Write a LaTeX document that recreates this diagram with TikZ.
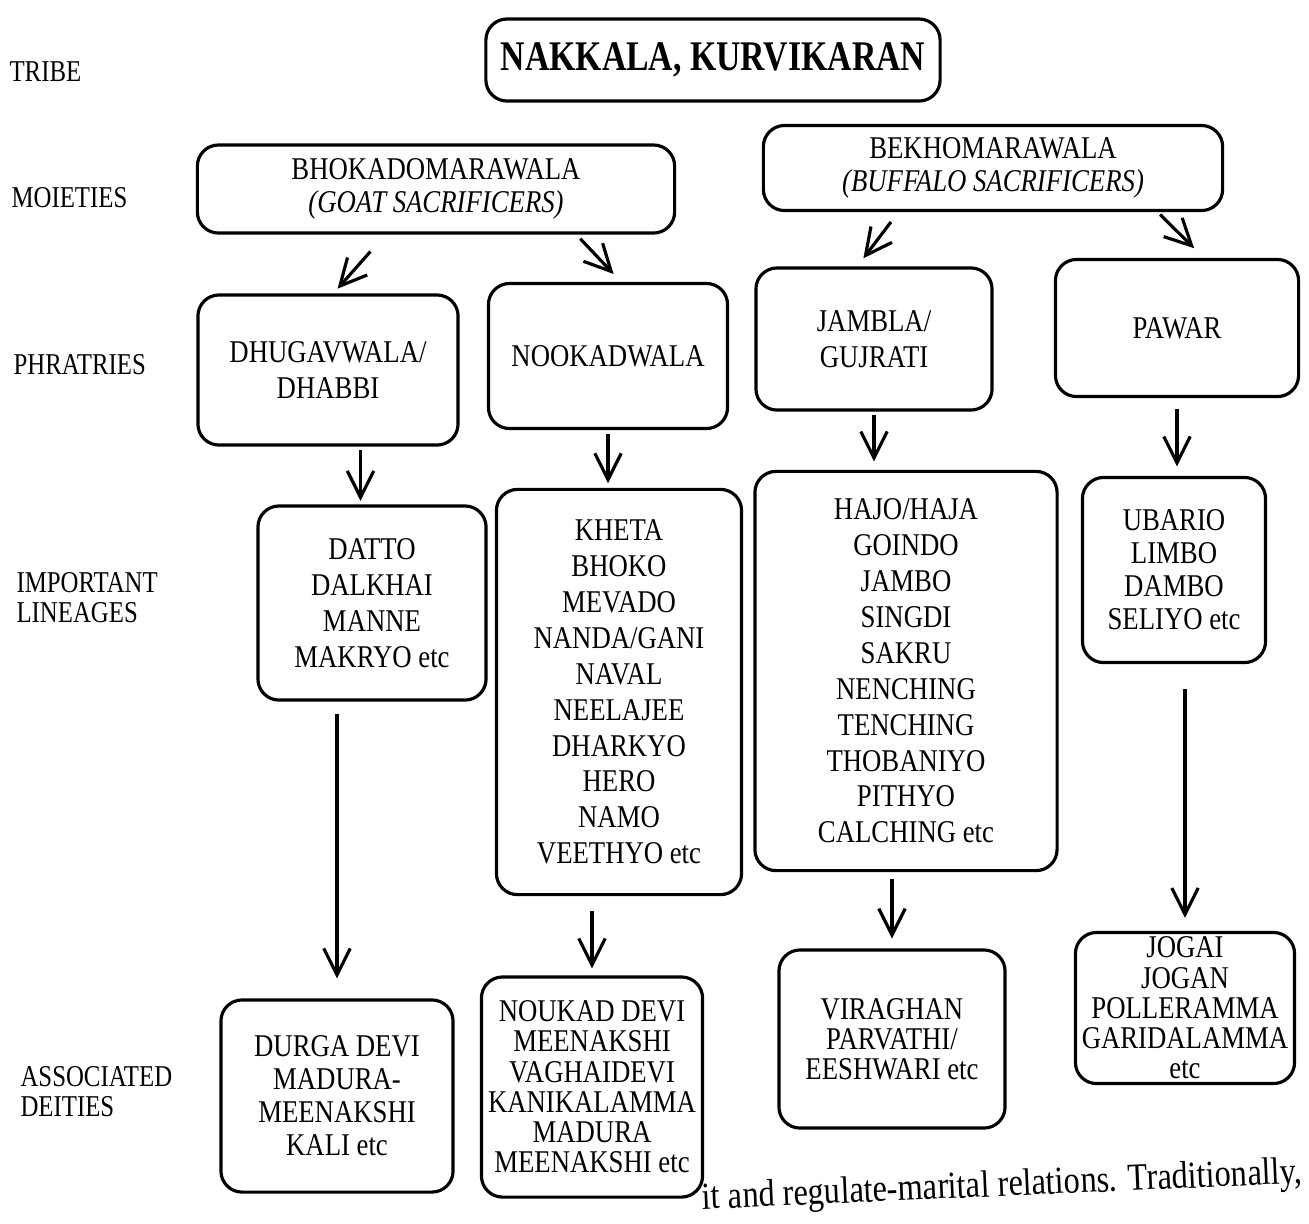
\documentclass[tikz,border=0pt]{standalone}
\usepackage{fontspec}
\setmainfont{Liberation Serif}[FakeStretch=0.845]
\newfontfamily\lblfont{Liberation Serif}[FakeStretch=0.82]
\newfontfamily\ttlfont{Liberation Serif}[FakeStretch=0.8]
\usetikzlibrary{arrows.meta}

\begin{document}
\begin{tikzpicture}[x=0.01cm, y=-0.01cm, line width=0.9pt,
	box/.style={draw, rounded corners=6pt, align=center, inner sep=0pt, font=\fontsize{9}{10.2}\selectfont},
	midsp/.style={font=\fontsize{9}{9.4}\selectfont},
	tightsp/.style={font=\fontsize{9}{8.6}\selectfont},
	lbl/.style={anchor=west, align=left, inner sep=0pt, font=\lblfont\fontsize{8.6}{8.5}\selectfont},
	arr/.style={-{Straight Barb[length=7.5pt,width=7.5pt]}, shorten >=1pt, shorten <=1pt}]
\useasboundingbox (0,0) rectangle (1309,1223);
% levels
\node [lbl] (tl) at (8,72) {TRIBE};
\node [lbl] (ml) at (10,198) {MOIETIES};
\node [lbl] (pl) at (12,365) {PHRATRIES};
\node [lbl] (ll) at (15,598) {IMPORTANT\\LINEAGES};
\node [lbl] (dl) at (19,1092) {ASSOCIATED\\DEITIES};
% nodes
\node [box, minimum width=4.54cm, minimum height=0.82cm, font=\ttlfont\bfseries\fontsize{12}{14}\selectfont] (t) at (713,60) {NAKKALA, KURVIKARAN};
\node [box, midsp, minimum width=4.77cm, minimum height=0.88cm] (m1) at (436,189) {BHOKADOMARAWALA\\\textit{(GOAT SACRIFICERS)}};
\node [box, midsp, minimum width=4.59cm, minimum height=0.85cm] (m2) at (993,168) {BEKHOMARAWALA\\\textit{(BUFFALO SACRIFICERS)}};
\node [box, minimum width=2.60cm, minimum height=1.50cm] (p1) at (328,370) {DHUGAVWALA/\\DHABBI};
\node [box, minimum width=2.39cm, minimum height=1.45cm] (p2) at (608,356) {NOOKADWALA};
\node [box, minimum width=2.36cm, minimum height=1.42cm] (p3) at (874,339) {JAMBLA/\\GUJRATI};
\node [box, minimum width=2.43cm, minimum height=1.37cm] (p4) at (1177,328) {PAWAR};
\node [box, minimum width=2.28cm, minimum height=1.94cm] (l1) at (372,603) {DATTO\\DALKHAI\\MANNE\\MAKRYO etc};
\node [box, minimum width=2.45cm, minimum height=4.05cm] (l2) at (619,692) {KHETA\\BHOKO\\MEVADO\\NANDA/GANI\\NAVAL\\NEELAJEE\\DHARKYO\\HERO\\NAMO\\VEETHYO etc};
\node [box, minimum width=3.02cm, minimum height=3.99cm] (l3) at (906,671) {HAJO/HAJA\\GOINDO\\JAMBO\\SINGDI\\SAKRU\\NENCHING\\TENCHING\\THOBANIYO\\PITHYO\\CALCHING etc};
\node [box, midsp, minimum width=1.83cm, minimum height=1.85cm] (l4) at (1174,570) {UBARIO\\LIMBO\\DAMBO\\SELIYO etc};
\node [box, midsp, minimum width=2.32cm, minimum height=1.92cm] (d1) at (337,1096) {DURGA DEVI\\MADURA-\\MEENAKSHI\\KALI etc};
\node [box, tightsp, minimum width=2.21cm, minimum height=2.20cm] (d2) at (592,1087) {NOUKAD DEVI\\MEENAKSHI\\VAGHAIDEVI\\KANIKALAMMA\\MADURA\\MEENAKSHI etc};
\node [box, tightsp, minimum width=2.26cm, minimum height=1.78cm] (d3) at (892,1039) {VIRAGHAN\\PARVATHI/\\EESHWARI etc};
\node [box, tightsp, minimum width=2.19cm, minimum height=1.51cm] (d4) at (1185,1008) {JOGAI\\JOGAN\\POLLERAMMA\\GARIDALAMMA\\etc};
% page text
\node [anchor=base east, rotate=2.5, inner sep=0pt, font=\fontsize{10.9}{12}\selectfont] (txt) at (1304,1183) {it and regulate-marital relations. Traditionally,};
% arrows
\path [arr]
	(m1.222) edge[shorten <=6.4pt, shorten >=1.8pt] (p1.86)
	(m1.342) edge[shorten <=1.6pt, shorten >=3.1pt] (p2.80)
	(m2.205) edge[shorten <=3.5pt, shorten >=2.9pt] (p3.103)
	(m2.345) edge[shorten <=1pt, shorten >=3.9pt] (p4.69)
	(p1.-67) edge (p1.-67 |- l1.north)
	(p2.south) edge[shorten >=1.3pt] (p2.south |- l2.north)
	(p3.south) edge[shorten >=2.4pt] (p3.south |- l3.north)
	(p4.south) edge[shorten <=3pt, shorten >=2.7pt] (p4.south |- l4.north)
	(d1.north |- l1.south) edge[shorten <=3.4pt, shorten >=5.7pt] (d1.north)
	(d2.north |- l2.south) edge[shorten <=4.3pt, shorten >=2pt] (d2.north)
	(d3.north |- l3.south) edge[shorten <=2pt, shorten >=2.8pt] (d3.north)
	(d4.north |- l4.south) edge[shorten <=7.1pt, shorten >=3.7pt] (d4.north);
\end{tikzpicture}
\end{document}
